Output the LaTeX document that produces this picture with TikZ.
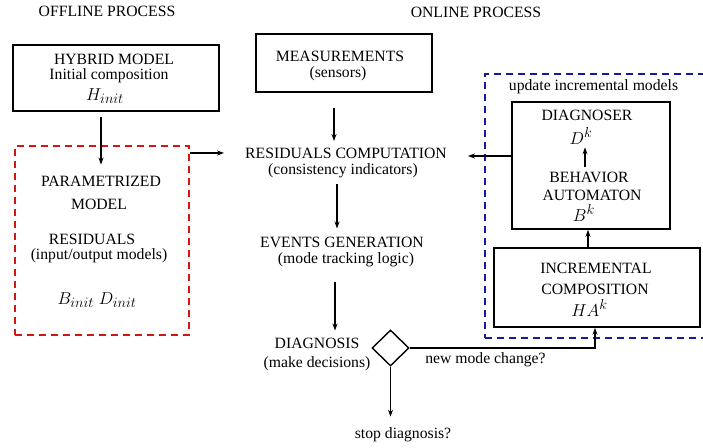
\documentclass[tikz,border=0pt]{standalone}
\usepackage{fontspec}
\setmainfont{Liberation Serif}
\usetikzlibrary{arrows.meta,shapes.geometric}
\definecolor{offred}{RGB}{215,20,20}
\definecolor{onblue}{RGB}{25,25,160}
\begin{document}
\begin{tikzpicture}[x=1pt,y=-1pt,
  every node/.style={inner sep=0pt, font=\fontsize{15.7}{18}\selectfont},
  sym/.style={font=\fontsize{19}{22}\selectfont},
  frame/.style={draw, line width=1.6pt, inner sep=0pt},
  redframe/.style={draw=offred, line width=1.6pt, dash pattern=on 7pt off 5pt},
  blueframe/.style={draw=onblue, line width=1.6pt, dash pattern=on 7pt off 5pt},
  link/.style={line width=1.2pt, -{Stealth[length=7pt,width=5pt]}},
  decision/.style={diamond, draw, line width=1.4pt, inner sep=0pt}]
\useasboundingbox (0,0) rectangle (703,447);

% headings
\node (offline) at (107,11) {OFFLINE PROCESS};
\node (online)  at (476,12) {ONLINE PROCESS};

% offline side
\node[frame, minimum width=206pt, minimum height=66pt] (hybrid) at (116,78) {};
\node (hyb1) at (114,59.5) {HYBRID MODEL};
\node (hyb2) at (109,76) {Initial composition};
\node[sym] (hyb3) at (105,96) {$H_{init}$};

\node[redframe, minimum width=174pt, minimum height=189pt] (param) at (102,240.5) {};
\node (par1) at (101,181) {PARAMETRIZED};
\node (par2) at (99,204) {MODEL};
\node (par3) at (92,239.5) {RESIDUALS};
\node (par4) at (99,256) {(input/output models)};
\node[sym] (par5) at (97,300) {$B_{init}\;D_{init}$};

% online chain
\node[frame, minimum width=176pt, minimum height=58pt] (meas) at (344,63) {};
\node (mea1) at (340,56) {MEASUREMENTS};
\node (mea2) at (338,74) {(sensors)};

\node (rc1) at (346,153.5) {RESIDUALS COMPUTATION};
\node (rc2) at (343,171) {(consistency indicators)};

\node (eg1) at (342,242) {EVENTS GENERATION};
\node (eg2) at (346,260) {(mode tracking logic)};

\node (dg1) at (317,343) {DIAGNOSIS};
\node (dg2) at (317,364) {(make decisions)};

\node[decision, minimum width=37pt, minimum height=36pt] (dia) at (390.5,348) {};
\node (stop) at (403,435) {stop diagnosis?};
\node (newmode) at (485.5,360) {new mode change?};

% incremental models
\node[blueframe, minimum width=230pt, minimum height=264pt] (upd) at (600,206) {};
\node (updlbl) at (593.5,87) {update incremental models};

\node[frame, minimum width=158pt, minimum height=127pt] (dgbox) at (591,165.5) {};
\node (dgs1) at (587,115) {DIAGNOSER};
\node[sym] (dgs2) at (581,136) {$D^k$};
\node (beh1) at (589,177) {BEHAVIOR};
\node (beh2) at (592,195) {AUTOMATON};
\node[sym] (beh3) at (584,213) {$B^k$};

\node[frame, minimum width=206pt, minimum height=79pt] (inc) at (597,287.5) {};
\node (inc1) at (596,268) {INCREMENTAL};
\node (inc2) at (595,289) {COMPOSITION};
\node[sym] (inc3) at (589.5,308) {$HA^k$};

% connectors
\draw[link, shorten <=5pt, shorten >=11pt] (hybrid.south -| par1.north) -- (par1.north);
\draw[link, shorten >=21pt] ([yshift=0.5pt]param.east |- rc1) -- ([yshift=0.5pt]rc1.west);
\draw[link, shorten <=15pt, shorten >=7pt] ([xshift=-10pt]meas.south) -- ([xshift=-10pt]meas.south |- rc1.north);
\draw[link, shorten <=6pt, shorten >=8pt] ([xshift=-6pt]rc2.south) -- ([xshift=-6pt]rc2.south |- eg1.north);
\draw[link, shorten <=15pt, shorten >=7pt] ([xshift=-11pt]eg2.south) -- ([xshift=-11pt]eg2.south |- dg1.north);
\draw[link, shorten >=11pt] (dia.south) -- (dia.south |- stop.north);
\draw[link] (dia.east) -| ([xshift=-2pt]inc.south);
\draw[link] ([xshift=-9pt]inc.north) -- ([xshift=-9pt]inc.north |- dgbox.south);
\draw[link, shorten <=4pt, shorten >=3pt] ([xshift=-4pt]beh1.north) -- ([xshift=-4pt]beh1.north |- dgs2.south);
\draw[link, shorten >=21pt] ([yshift=9.5pt]dgbox.west) -- ([yshift=9.5pt]dgbox.west -| rc1.east);
\end{tikzpicture}
\end{document}
